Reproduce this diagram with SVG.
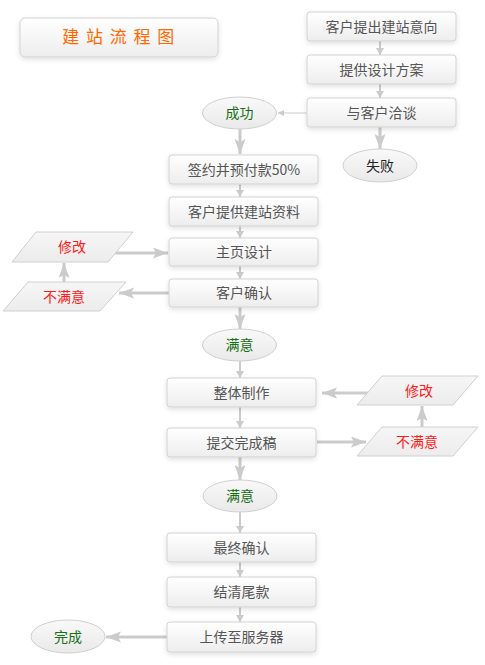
<svg xmlns="http://www.w3.org/2000/svg" width="485" height="665" viewBox="0 0 485 665">
<style>
.bx{fill:url(#gb);stroke:#d2d2d2;stroke-width:1;filter:url(#sh)}
.el{fill:url(#ge);stroke:#cfcfcf;stroke-width:1}
.pg{fill:url(#gp);stroke:#d0d0d0;stroke-width:1}
.t{font-family:"Noto Sans CJK SC","Noto Sans",sans-serif;font-size:14px;text-anchor:middle;fill:#555}
.g{fill:#167016}
.r{fill:#ff1a1a}
.k{fill:#222}
.thin{stroke:#cbcbcb;stroke-width:2;fill:none;marker-end:url(#ms)}
.hair{stroke:#cbcbcb;stroke-width:1;fill:none;marker-end:url(#mt)}
.thick{stroke:#cbcbcb;stroke-width:3;fill:none;marker-end:url(#mb)}
</style>
<defs>
<linearGradient id="gb" x1="0" y1="0" x2="0" y2="1"><stop offset="0" stop-color="#ffffff"/><stop offset="1" stop-color="#ededed"/></linearGradient>
<linearGradient id="ge" x1="0" y1="0" x2="0" y2="1"><stop offset="0" stop-color="#f9f9f9"/><stop offset="1" stop-color="#e9e9e9"/></linearGradient>
<linearGradient id="gp" x1="0" y1="0" x2="0" y2="1"><stop offset="0" stop-color="#f6f6f6"/><stop offset="1" stop-color="#ececec"/></linearGradient>
<filter id="sh" x="-10%" y="-20%" width="120%" height="150%"><feDropShadow dx="0" dy="2" stdDeviation="2.5" flood-color="#000" flood-opacity="0.12"/></filter>
<marker id="ms" markerUnits="userSpaceOnUse" markerWidth="9" markerHeight="9" refX="7" refY="4" orient="auto"><path d="M0,0 L7,4 L0,8 z" fill="#cbcbcb"/></marker>
<marker id="mt" markerUnits="userSpaceOnUse" markerWidth="8" markerHeight="8" refX="6" refY="3" orient="auto"><path d="M0,0 L6,3 L0,6 z" fill="#cbcbcb"/></marker>
<marker id="mb" markerUnits="userSpaceOnUse" markerWidth="16" markerHeight="12" refX="15" refY="5.5" orient="auto"><path d="M0,0 L15,5.5 L0,11 L3,5.5 z" fill="#cbcbcb"/></marker>
</defs>
<g id="connectors">
<line class="thin" x1="380" y1="41" x2="380" y2="55"/>
<line class="thin" x1="380" y1="84" x2="380" y2="98"/>
<line class="hair" x1="307" y1="113" x2="278" y2="113"/>
<line class="thick" x1="380" y1="127" x2="380" y2="149"/>
<line class="thick" x1="240" y1="129" x2="240" y2="154"/>
<line class="thin" x1="240" y1="184" x2="240" y2="197"/>
<line class="thin" x1="240" y1="226" x2="240" y2="238"/>
<line class="thin" x1="240" y1="266" x2="240" y2="279"/>
<line class="thick" x1="113" y1="253" x2="168" y2="253"/>
<line class="thick" x1="169" y1="293" x2="119" y2="293"/>
<line class="thick" x1="64" y1="282" x2="64" y2="263"/>
<line class="thick" x1="240" y1="307" x2="240" y2="329"/>
<line class="thin" x1="240" y1="361" x2="240" y2="378"/>
<line class="thin" x1="240" y1="407" x2="240" y2="428"/>
<line class="thick" x1="370" y1="393" x2="322" y2="393"/>
<line class="thick" x1="317" y1="442" x2="366" y2="442"/>
<line class="thick" x1="422" y1="427" x2="422" y2="406"/>
<line class="thick" x1="240" y1="457" x2="240" y2="480"/>
<line class="thin" x1="240" y1="512" x2="240" y2="533"/>
<line class="thin" x1="240" y1="562" x2="240" y2="577"/>
<line class="thin" x1="240" y1="607" x2="240" y2="622"/>
<line class="thick" x1="167" y1="637" x2="106" y2="637"/>
</g>
<g id="title">
<rect class="bx" x="20" y="18" width="198" height="39" rx="5"/>
<text x="119" y="43" font-family="'Noto Sans CJK SC','Noto Sans',sans-serif" font-size="17" fill="#ff6a00" text-anchor="middle" letter-spacing="1.5">建 站 流 程 图</text>
</g>
<g id="n1"><rect class="bx" x="307" y="12" width="149" height="29" rx="3"/><text class="t" x="381.5" y="31.5">客户提出建站意向</text></g>
<g id="n2"><rect class="bx" x="307" y="55" width="149" height="29" rx="3"/><text class="t" x="381.5" y="74.5">提供设计方案</text></g>
<g id="n3"><rect class="bx" x="307" y="98" width="149" height="29" rx="3"/><text class="t" x="381.5" y="117.5">与客户洽谈</text></g>
<g id="success1"><ellipse class="el" cx="239.5" cy="113" rx="37" ry="16"/><text class="t g" x="239.5" y="118">成功</text></g>
<g id="fail"><ellipse class="el" cx="380" cy="165.5" rx="37" ry="16.5"/><text class="t k" x="380" y="170.5">失败</text></g>
<g id="n4"><rect class="bx" x="169" y="155" width="149" height="29" rx="3"/><text class="t" x="244" y="174.5">签约并预付款50%</text></g>
<g id="n5"><rect class="bx" x="169" y="197" width="149" height="29" rx="3"/><text class="t" x="244" y="216.5">客户提供建站资料</text></g>
<g id="n6"><rect class="bx" x="169" y="238" width="149" height="28" rx="3"/><text class="t" x="244" y="257">主页设计</text></g>
<g id="n7"><rect class="bx" x="169" y="279" width="149" height="28" rx="3"/><text class="t" x="244" y="298">客户确认</text></g>
<g id="modify1"><polygon class="pg" points="36,232 133,232 108,262 12,262"/><text class="t r" x="72" y="252">修改</text></g>
<g id="unsat1"><polygon class="pg" points="28,282 126,282 100,311 3,311"/><text class="t r" x="64" y="302">不满意</text></g>
<g id="sat1"><ellipse class="el" cx="239.5" cy="345" rx="37" ry="16"/><text class="t g" x="239.5" y="350">满意</text></g>
<g id="n8"><rect class="bx" x="167" y="378" width="149" height="29" rx="3"/><text class="t" x="241.5" y="397.5">整体制作</text></g>
<g id="n9"><rect class="bx" x="167" y="428" width="149" height="29" rx="3"/><text class="t" x="241.5" y="447.5">提交完成稿</text></g>
<g id="modify2"><polygon class="pg" points="382,376 478,376 453,405 357,405"/><text class="t r" x="419" y="396">修改</text></g>
<g id="unsat2"><polygon class="pg" points="382,427 478,427 453,456 357,456"/><text class="t r" x="417" y="446.5">不满意</text></g>
<g id="sat2"><ellipse class="el" cx="240" cy="496" rx="37" ry="16"/><text class="t g" x="240" y="501">满意</text></g>
<g id="n10"><rect class="bx" x="167" y="533" width="149" height="29" rx="3"/><text class="t" x="241.5" y="552.5">最终确认</text></g>
<g id="n11"><rect class="bx" x="167" y="577" width="149" height="30" rx="3"/><text class="t" x="241.5" y="597">结清尾款</text></g>
<g id="n12"><rect class="bx" x="167" y="622" width="149" height="30" rx="3"/><text class="t" x="241.5" y="642">上传至服务器</text></g>
<g id="done"><ellipse class="el" cx="68" cy="636.5" rx="37" ry="16.5"/><text class="t g" x="68" y="641.5">完成</text></g>
</svg>
